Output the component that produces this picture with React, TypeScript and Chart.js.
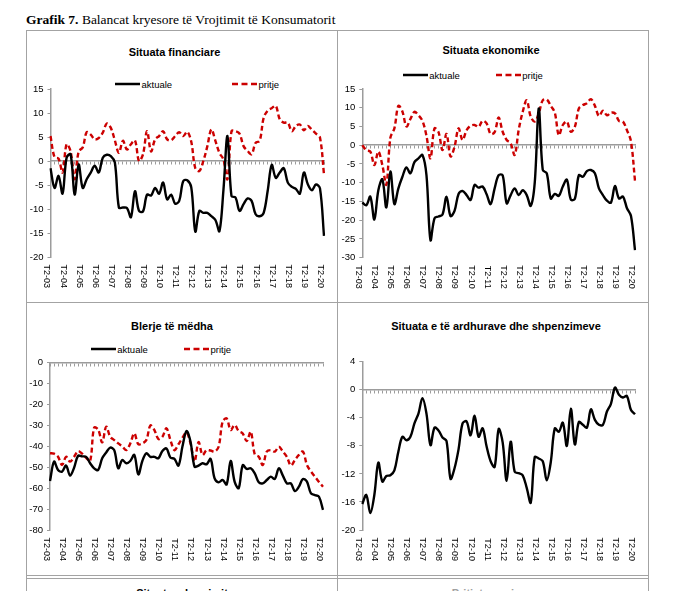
import React, { useEffect, useRef } from "react";
import { Chart, registerables } from "chart.js";

Chart.register(...registerables);

const FONT = "'Liberation Sans', Arial, sans-serif";

const tickLabels = [
  "T2-03", "T2-04", "T2-05", "T2-06", "T2-07", "T2-08", "T2-09", "T2-10", "T2-11",
  "T2-12", "T2-13", "T2-14", "T2-15", "T2-16", "T2-17", "T2-18", "T2-19", "T2-20",
];

const categories: string[] = [];
tickLabels.forEach((t, k) => {
  categories.push(t);
  if (k < tickLabels.length - 1) {
    const yy = t.slice(3);
    const next = tickLabels[k + 1].slice(3);
    categories.push(`T3-${yy}`, `T4-${yy}`, `T1-${next}`);
  }
});

const finActual = [-1.5, -5.6, -3.1, -6.8, 0.7, 1.4, -7, -0.7, -5.6, -3.8, -2.4, -1, -2.4, 0.7, 1.3, 1, -0.3, -9.7, -9.7, -9.8, -11.7, -6.3, -10.4, -10.5, -7, -7.2, -5.6, -6.8, -4.5, -8, -7, -8.9, -8.3, -4.2, -4, -5.5, -14.7, -10.4, -10.8, -10.8, -11.5, -12.3, -14.6, -6, 5.2, -7.3, -7.6, -10.4, -9, -7.8, -8.3, -11.1, -11.5, -10.8, -6.2, -0.8, -3.5, -2.4, -1.5, -4.5, -5.4, -5.8, -6.8, -2.4, -4.9, -6.1, -4.9, -5.7, -15.6];
const finExpected = [5.2, 0.8, 0.5, -2.4, 3.5, 2, -3.8, 2, 2.8, 6, 5.5, 4.5, 4.8, 5.9, 7.8, 6.9, 4.3, 1.7, 4.2, 2.4, 3.5, 4.3, 0, 1.4, 6.2, 2, 4.5, 5.2, 6.2, 4.5, 4.3, 5.2, 6, 5.2, 6.1, 4, -1.5, -2.1, 0, 3.1, 6.6, 4.2, 1.7, 0.3, -3.8, 6.2, 6.2, 5.7, 3.1, 2.1, 1.4, 3.8, 4.2, 9, 10.5, 11, 11.5, 8.7, 8, 8, 6.2, 7.3, 7.6, 6.4, 7.3, 6.5, 5.7, 4.9, -2.8];

const ecoActual = [-15.3, -16, -13.7, -19.8, -12, -9.1, -16.6, -7, -15.7, -11.5, -8.4, -5.9, -7.5, -4.5, -3.5, -2.6, -8, -25.3, -19.5, -19, -18.5, -13.7, -18.9, -17.5, -13, -12.2, -13.3, -14.6, -10.6, -11.3, -11, -13.1, -15.7, -11.5, -8, -8, -15.5, -13.3, -11.5, -13.3, -12, -13.3, -16.2, -10, 9.8, -6.6, -7.5, -14.2, -13, -13.5, -11, -9.2, -14.5, -14.3, -8, -8.4, -6.9, -6.6, -7.5, -11.5, -13.3, -14.8, -15.3, -10.9, -14.2, -13.7, -16.8, -18.9, -28];
const ecoExpected = [0, -1.3, -1.7, -5.3, -1.7, -5.3, -10.5, 2, 4.5, 10.5, 9, 5, 7, 8.9, 8, 6.5, 2.5, -3.5, 4.5, 3.5, -1.3, 3, -3, -0.4, 4.5, 1.4, 4, 5.2, 5.4, 4.9, 6.5, 5.8, 3, 3.5, 7.4, 3.6, 1.4, 0.5, -2.6, 4.1, 8.9, 12, 7.6, 6.3, 8.5, 12, 12.2, 10.5, 8.7, 2.7, 5.4, 6.3, 3.6, 4.9, 9.8, 10.7, 11.2, 12.3, 10.5, 7.8, 9.2, 8, 8.7, 8.5, 6.5, 6.3, 4, 1, -9.5];

const bigActual = [-56.6, -47.3, -51.3, -52.1, -49.2, -54, -50.2, -44.5, -44.8, -45, -48.1, -50.5, -51.3, -45.7, -42.9, -40.6, -41.8, -50.5, -46.5, -48.1, -47, -44.1, -53.4, -47, -43.3, -45, -45, -45.7, -42.2, -41, -45.4, -46, -49.2, -40, -32.7, -37.8, -49.7, -49.2, -48.1, -48.6, -46, -55.3, -57.2, -56.1, -58.2, -47, -57, -60, -49, -50.8, -50.5, -52.9, -57.2, -57.7, -56.1, -54.5, -55.6, -50.5, -54, -57.7, -57.7, -61.4, -59.3, -55.6, -56.9, -62.5, -63.3, -64.1, -70.4];
const bigExpected = [-43.3, -43.5, -45, -48.9, -45, -47.3, -45, -42.3, -43.5, -45.5, -47, -31, -32, -38.1, -30.6, -35.4, -37, -38.6, -40, -41.8, -38.6, -33.8, -39, -38.6, -37, -30, -32.2, -36.5, -35.4, -31.4, -37, -41.8, -39, -35.9, -33.3, -38.6, -47.3, -38, -44.1, -41.8, -42, -42.5, -40.2, -28.2, -26.6, -32.2, -29.8, -32.7, -33.8, -37.5, -33, -43.8, -45, -48.9, -42.5, -41.8, -42.5, -40.2, -42.5, -45, -49.2, -46.5, -44.1, -42.5, -48.9, -52, -54.5, -57, -59.3];

const incomeActual = [-16.3, -15, -17.6, -15, -10.4, -13.1, -12.3, -12.2, -11.5, -8.8, -6.7, -7.2, -6.7, -4.8, -3.4, -1.2, -3.4, -7.9, -5.4, -5.8, -6.8, -7.3, -12.7, -11.2, -8.5, -4.8, -4.5, -6.5, -3.7, -6.7, -5.5, -8.1, -10.2, -11, -5.6, -7.5, -13, -7.4, -11.7, -11.9, -12.2, -14, -16.1, -9.6, -9.8, -10.2, -12.9, -10.3, -5.5, -6, -4.7, -8, -2.7, -7.8, -4.6, -5, -5.4, -2.8, -4.3, -5, -5, -3.1, -2, 0.3, -0.7, -1.1, -0.9, -2.9, -3.5];

const BLACK = "#000000";
const RED = "#CC0000";
const GRAY = "#9c9c9c";

type Series = { label: string; data: number[]; color: string; dashed: boolean };
type PanelDef = {
  L: number; T: number; R: number; B: number;
  min: number; max: number; step: number;
  series: Series[];
};

const panels: PanelDef[] = [
  {
    L: 50.5, T: 89, R: 324, B: 257, min: -20, max: 15, step: 5,
    series: [
      { label: "aktuale", data: finActual, color: BLACK, dashed: false },
      { label: "pritje", data: finExpected, color: RED, dashed: true },
    ],
  },
  {
    L: 362.3, T: 89, R: 635, B: 257.7, min: -30, max: 15, step: 5,
    series: [
      { label: "aktuale", data: ecoActual, color: BLACK, dashed: false },
      { label: "pritje", data: ecoExpected, color: RED, dashed: true },
    ],
  },
  {
    L: 50, T: 362.7, R: 323, B: 530, min: -80, max: 0, step: 10,
    series: [
      { label: "aktuale", data: bigActual, color: BLACK, dashed: false },
      { label: "pritje", data: bigExpected, color: RED, dashed: true },
    ],
  },
  {
    L: 362.3, T: 361.7, R: 635, B: 530, min: -20, max: 4, step: 4,
    series: [{ label: "aktuale", data: incomeActual, color: BLACK, dashed: false }],
  },
];

function Panel({ p }: { p: PanelDef }) {
  const ref = useRef<HTMLCanvasElement>(null);
  const cl = Math.floor(p.L - 40);
  const ct = Math.floor(p.T - 12);
  const cw = Math.ceil(p.R + 26 - cl);
  const ch = Math.ceil(p.B + 45 - ct);

  useEffect(() => {
    const chart = new Chart(ref.current as HTMLCanvasElement, {
      type: "line",
      data: {
        labels: categories,
        datasets: p.series.map((s) => ({
          label: s.label,
          data: s.data,
          borderColor: s.color,
          backgroundColor: s.color,
          borderWidth: 2.4,
          borderDash: s.dashed ? [5, 3] : [],
          pointRadius: 0,
          pointHoverRadius: 0,
          tension: 0.35,
          fill: false,
          xAxisID: "x",
          yAxisID: "y",
        })),
      },
      options: {
        responsive: false,
        animation: false,
        events: [],
        layout: {
          padding: { left: 0, top: p.T - ct, right: cl + cw - p.R, bottom: 0 },
        },
        plugins: {
          legend: { display: false },
          tooltip: { enabled: false },
          title: { display: false },
        },
        scales: {
          x: {
            type: "category",
            position: "bottom",
            grid: { display: false, drawTicks: false },
            border: { display: false },
            ticks: {
              autoSkip: false,
              minRotation: -90,
              maxRotation: -90,
              padding: 31,
              labelOffset: -3.6,
              color: "#000",
              font: { size: 9, family: FONT },
              callback: (_v: any, i: number) =>
                tickLabels.includes(categories[i]) ? categories[i] : "",
            },
            afterFit: (s: any) => {
              s.height = ct + ch - p.B;
            },
          },
          x2: {
            type: "category",
            axis: "x",
            position: { y: 0 },
            grid: {
              display: true,
              drawOnChartArea: false,
              drawTicks: true,
              tickLength: 3,
              color: GRAY,
              lineWidth: 1,
            },
            border: { display: true, color: GRAY, width: 1.5 },
            ticks: { display: false },
          },
          y: {
            type: "linear",
            position: "left",
            min: p.min,
            max: p.max,
            ticks: {
              stepSize: p.step,
              color: "#000",
              padding: 4,
              font: { size: 9.5, family: FONT },
            },
            grid: {
              display: true,
              drawOnChartArea: false,
              drawTicks: true,
              tickLength: 3,
              color: GRAY,
            },
            border: { display: true, color: GRAY, width: 1.5 },
            afterFit: (s: any) => {
              s.width = p.L - cl;
            },
          },
        },
      } as any,
    });
    return () => chart.destroy();
  }, []);

  return (
    <canvas
      ref={ref}
      width={cw}
      height={ch}
      style={{ position: "absolute", left: cl, top: ct, width: cw, height: ch }}
    />
  );
}

function Title({ cx, baseline, text, color = "#000" }: { cx: number; baseline: number; text: string; color?: string }) {
  return (
    <div
      style={{
        position: "absolute",
        left: cx - 150,
        width: 300,
        top: baseline - 10.6,
        textAlign: "center",
        fontFamily: FONT,
        fontWeight: "bold",
        fontSize: 11,
        lineHeight: "14px",
        color,
        whiteSpace: "nowrap",
      }}
    >
      {text}
    </div>
  );
}

function LegendItem({ x, y, label, color, dashed }: { x: number; y: number; label: string; color: string; dashed: boolean }) {
  return (
    <>
      <svg style={{ position: "absolute", left: x, top: y - 2 }} width={25} height={4}>
        <line
          x1={0}
          y1={2}
          x2={25}
          y2={2}
          stroke={color}
          strokeWidth={2.5}
          strokeDasharray={dashed ? "6 3.5" : undefined}
        />
      </svg>
      <div
        style={{
          position: "absolute",
          left: x + 26.5,
          top: y - 6,
          fontFamily: FONT,
          fontSize: 9.5,
          lineHeight: "13px",
          whiteSpace: "nowrap",
          color: "#000",
        }}
      >
        {label}
      </div>
    </>
  );
}

function HLine({ x, y, w, h = 1.5 }: { x: number; y: number; w: number; h?: number }) {
  return <div style={{ position: "absolute", left: x, top: y, width: w, height: h, background: "#a3a3a3" }} />;
}
function VLine({ x, y, h }: { x: number; y: number; h: number }) {
  return <div style={{ position: "absolute", left: x, top: y, width: 1.5, height: h, background: "#a3a3a3" }} />;
}

export default function App() {
  return (
    <div
      style={{
        position: "absolute",
        left: 0,
        top: 0,
        width: 681,
        height: 591,
        overflow: "hidden",
        background: "#fff",
      }}
    >
      <div
        style={{
          position: "absolute",
          left: 26,
          top: 12,
          fontFamily: "'Liberation Serif', 'Times New Roman', serif",
          fontSize: 13.5,
          lineHeight: "16px",
          whiteSpace: "nowrap",
          color: "#000",
        }}
      >
        <b>Grafik 7.</b> Balancat kryesore të Vrojtimit të Konsumatorit
      </div>

      <HLine x={25.5} y={29.5} w={623.5} />
      <HLine x={25.5} y={301.5} w={623.5} />
      <HLine x={25.5} y={575} w={623.5} h={1} />
      <HLine x={25.5} y={577.5} w={623.5} h={1} />
      <VLine x={25.5} y={29.5} h={562} />
      <VLine x={336.5} y={29.5} h={562} />
      <VLine x={647.5} y={29.5} h={562} />

      <Title cx={174.5} baseline={55.7} text="Situata financiare" />
      <Title cx={491} baseline={54} text="Situata ekonomike" />
      <Title cx={172} baseline={330} text="Blerje të mëdha" />
      <Title cx={496} baseline={329.3} text="Situata e të ardhurave dhe shpenzimeve" />
      <Title cx={182} baseline={596.5} text="Situata e kursimit" />
      <Title cx={497} baseline={596.5} text="Pritjet e çmimeve" color="#a0a0a0" />

      <LegendItem x={115} y={84.3} label="aktuale" color={BLACK} dashed={false} />
      <LegendItem x={232} y={84.3} label="pritje" color={RED} dashed={true} />
      <LegendItem x={402.7} y={75} label="aktuale" color={BLACK} dashed={false} />
      <LegendItem x={495.7} y={75} label="pritje" color={RED} dashed={true} />
      <LegendItem x={90.7} y={349.3} label="aktuale" color={BLACK} dashed={false} />
      <LegendItem x={184} y={349.3} label="pritje" color={RED} dashed={true} />

      {panels.map((p, i) => (
        <Panel key={i} p={p} />
      ))}
    </div>
  );
}
